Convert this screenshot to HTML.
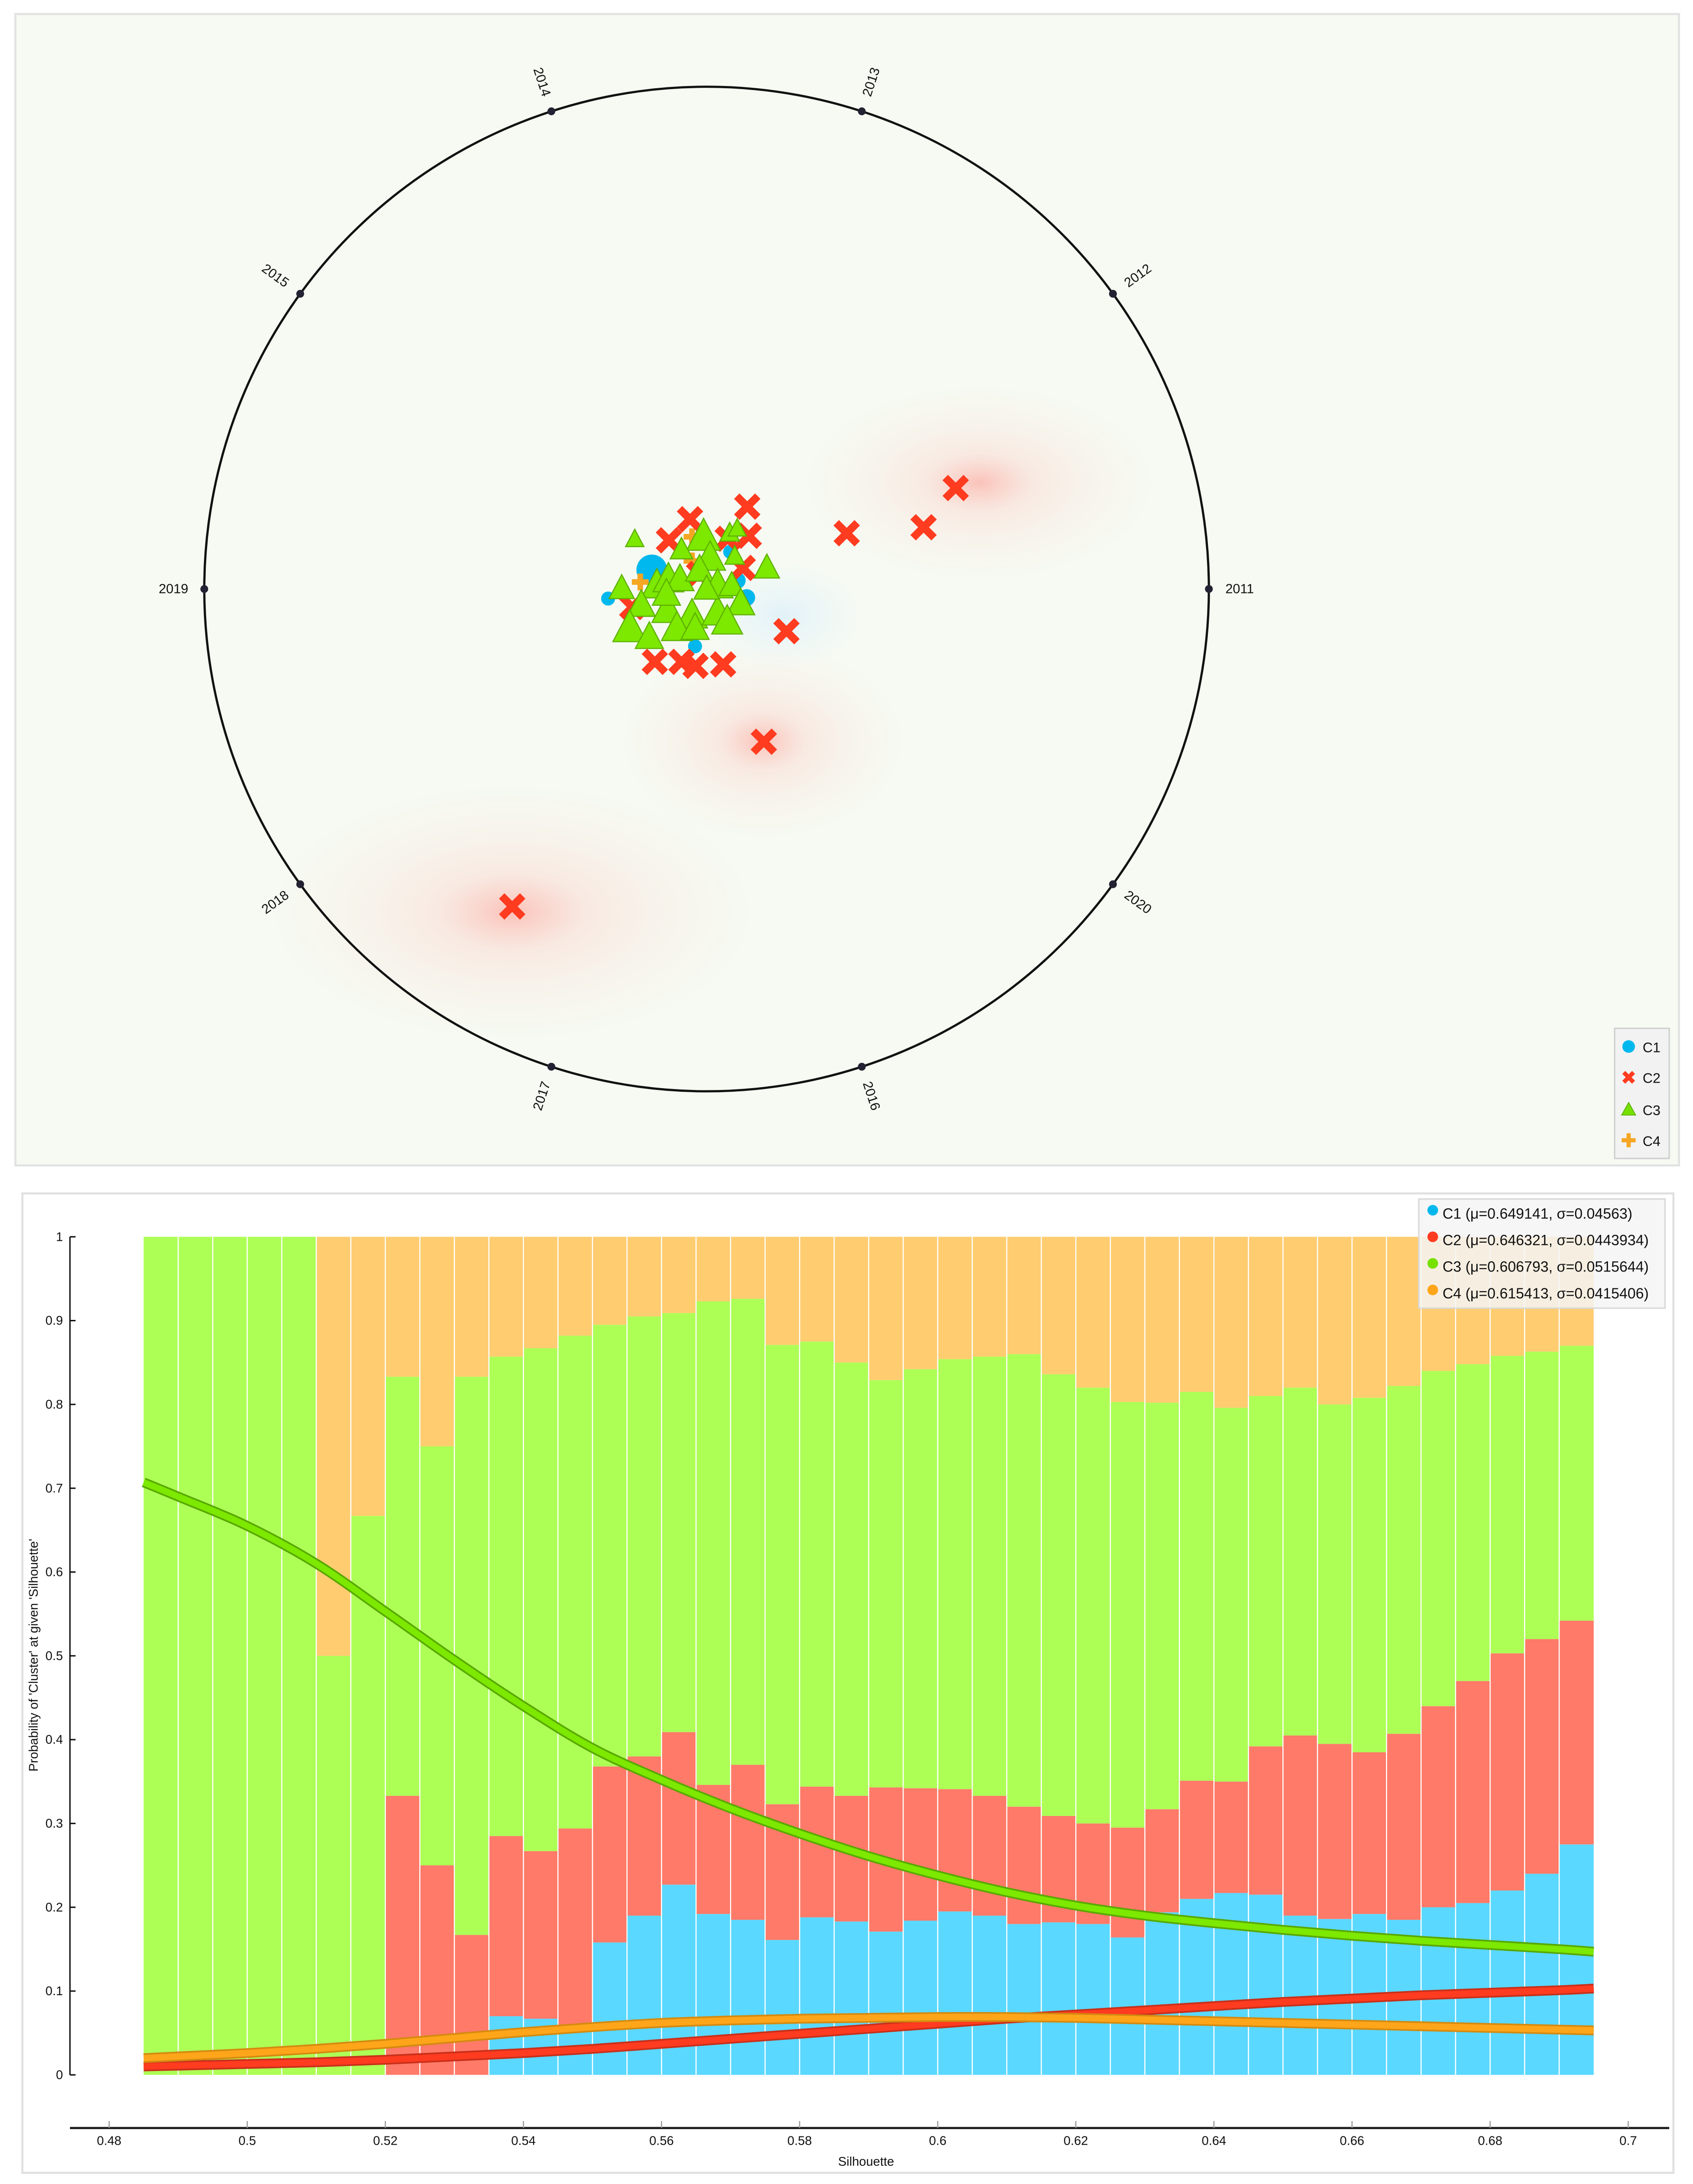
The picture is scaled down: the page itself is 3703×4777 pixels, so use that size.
<!DOCTYPE html>
<html><head><meta charset="utf-8">
<style>
html,body{margin:0;padding:0;background:#fff;}
svg{display:block;font-family:"Liberation Sans",sans-serif;}
</style></head>
<body>
<svg id="root" width="3703" height="4777" viewBox="0 0 1210 1561" preserveAspectRatio="none" xmlns="http://www.w3.org/2000/svg">
<defs>
<radialGradient id="pink" cx="50%" cy="50%" r="50%">
<stop offset="0" stop-color="#ff8a80" stop-opacity="0.5"/>
<stop offset="0.3" stop-color="#ffb0a8" stop-opacity="0.22"/>
<stop offset="0.7" stop-color="#ffd4cf" stop-opacity="0.12"/>
<stop offset="1" stop-color="#ffe4e0" stop-opacity="0"/>
</radialGradient>
<radialGradient id="blueglow" cx="50%" cy="50%" r="50%">
<stop offset="0" stop-color="#d8eefc" stop-opacity="0.7"/>
<stop offset="1" stop-color="#e8f4fc" stop-opacity="0"/>
</radialGradient>
</defs>
<g>
<rect x="11" y="10" width="1189" height="823" fill="#f6faf2" stroke="#e2e2e2" stroke-width="1.5"/>
<g id="glows">
<ellipse cx="700" cy="345" rx="130" ry="72" fill="url(#pink)"/>
<ellipse cx="366" cy="652" rx="180" ry="95" fill="url(#pink)"/>
<ellipse cx="545" cy="530" rx="105" ry="72" fill="url(#pink)"/>
<ellipse cx="560" cy="440" rx="60" ry="40" fill="url(#blueglow)"/>
</g>
<circle cx="505" cy="421" r="359" fill="none" stroke="#111" stroke-width="1.6"/>
<g id="anchors"></g>
<g id="points"></g>
<g>
<rect x="1154" y="735" width="39" height="93" fill="#f2f2f2" stroke="#cfcfcf"/>
<circle cx="1164" cy="748" r="4.5" fill="#00b8ee"/>
<text x="1174" y="752" font-size="10" fill="#111">C1</text>
<path d="M1160.5 766.5 l7 7 M1167.5 766.5 l-7 7" stroke="#ff3b20" stroke-width="3"/>
<text x="1174" y="774" font-size="10" fill="#111">C2</text>
<path d="M1164 788 l5 9 h-10 z" fill="#76e000" stroke="#5db000" stroke-width="0.6"/>
<text x="1174" y="797" font-size="10" fill="#111">C3</text>
<path d="M1164 810 v10 M1159 815 h10" stroke="#f5a623" stroke-width="3"/>
<text x="1174" y="819" font-size="10" fill="#111">C4</text>
</g>
</g>
<g>
<rect x="16" y="853" width="1180" height="700" fill="#fff" stroke="#e0e0e0" stroke-width="1.5"/>
<g id="bars"></g>
<g id="curves"></g>
<g id="axes"></g>
<text x="619" y="1548" font-size="9" text-anchor="middle" fill="#111">Silhouette</text>
<text transform="translate(27,1183) rotate(-90)" font-size="9" text-anchor="middle" fill="#111">Probability of 'Cluster' at given 'Silhouette'</text>
<g>
<rect x="1014" y="857" width="176" height="78" fill="#f4f4f4" fill-opacity="0.85" stroke="#d8d8d8"/>
<circle cx="1024" cy="865" r="3.8" fill="#00b8ee"/>
<text x="1031" y="871" font-size="10.5" fill="#111">C1 (μ=0.649141, σ=0.04563)</text>
<circle cx="1024" cy="884" r="3.8" fill="#ff3b20"/>
<text x="1031" y="890" font-size="10.5" fill="#111">C2 (μ=0.646321, σ=0.0443934)</text>
<circle cx="1024" cy="903" r="3.8" fill="#76e000"/>
<text x="1031" y="909" font-size="10.5" fill="#111">C3 (μ=0.606793, σ=0.0515644)</text>
<circle cx="1024" cy="922" r="3.8" fill="#ffa51a"/>
<text x="1031" y="928" font-size="10.5" fill="#111">C4 (μ=0.615413, σ=0.0415406)</text>
</g>
</g>
</svg>
<script>
const anchorLabels = ["2011","2012","2013","2014","2015","2019","2018","2017","2016","2020"];
const anchorAngles = [0,36,72,108,144,180,216,252,288,324];
const c2x = [0.496,0.432,0.279,0.159,0.114,-0.387,0.081,-0.033,-0.075,0.084,0.042,0.072,0.033,-0.022,-0.050,-0.103,-0.148,-0.015];
const c2y = [0.201,0.123,0.111,-0.084,-0.304,-0.632,0.164,0.139,0.097,0.106,0.100,0.042,-0.150,-0.153,-0.145,-0.145,-0.036,0.030];
const c1x = [-0.109,-0.196,0.061,0.080,0.047,-0.023];
const c1y = [0.038,-0.019,0.017,-0.017,0.074,-0.114];
const c1r = [11,5,6,6,5,5];
const c4x = [-0.029,-0.132,-0.029];
const c4y = [0.104,0.014,0.056];
const c3x = [-0.143,-0.006,0.046,0.061,-0.050,0.007,0.056,0.120,-0.169,-0.099,-0.076,-0.053,-0.014,0.022,0.050,0.068,-0.130,-0.078,-0.029,0.022,-0.153,-0.114,-0.059,0.041,-0.023,-0.080,0.000];
const c3y = [0.099,0.104,0.111,0.120,0.078,0.062,0.065,0.042,0.001,0.007,0.019,0.019,0.038,0.007,0.007,-0.029,-0.032,-0.042,-0.053,-0.047,-0.078,-0.096,-0.078,-0.065,-0.078,-0.010,0.000];
const c3s = [13,24,14,13,16,22,14,18,18,22,22,20,20,22,18,20,20,22,22,22,24,20,22,22,20,20,18];

const binStart = [0.485,0.49,0.495,0.5,0.505,0.51,0.515,0.52,0.525,0.53,0.535,0.54,0.545,0.55,0.555,0.56,0.565,0.57,0.575,0.58,0.585,0.59,0.595,0.6,0.605,0.61,0.615,0.62,0.625,0.63,0.635,0.64,0.645,0.65,0.655,0.66,0.665,0.67,0.675,0.68,0.685,0.69];
const c1Prob = [0,0,0,0,0,0,0,0,0,0,0.07,0.067,0.059,0.158,0.19,0.227,0.192,0.185,0.161,0.188,0.183,0.171,0.184,0.195,0.19,0.18,0.182,0.18,0.164,0.194,0.21,0.217,0.215,0.19,0.186,0.192,0.185,0.2,0.205,0.22,0.24,0.275];
const c2Prob = [0,0,0,0,0,0,0,0.333,0.25,0.167,0.215,0.2,0.235,0.21,0.19,0.182,0.154,0.185,0.162,0.156,0.15,0.172,0.158,0.146,0.143,0.14,0.127,0.12,0.131,0.123,0.141,0.133,0.177,0.215,0.209,0.193,0.222,0.24,0.265,0.283,0.28,0.267];
const c3Prob = [1,1,1,1,1,0.5,0.667,0.5,0.5,0.666,0.572,0.6,0.588,0.527,0.525,0.5,0.577,0.556,0.548,0.531,0.517,0.486,0.5,0.513,0.524,0.54,0.527,0.52,0.508,0.485,0.464,0.446,0.418,0.415,0.405,0.423,0.415,0.4,0.378,0.355,0.343,0.328];
const c4Prob = [0,0,0,0,0,0.5,0.333,0.167,0.25,0.167,0.143,0.133,0.118,0.105,0.095,0.091,0.077,0.074,0.129,0.125,0.15,0.171,0.158,0.146,0.143,0.14,0.164,0.18,0.197,0.198,0.185,0.204,0.19,0.18,0.2,0.192,0.178,0.16,0.152,0.142,0.137,0.13];
const curveX = [0.485,0.49,0.5,0.51,0.52,0.53,0.54,0.55,0.56,0.57,0.58,0.59,0.6,0.61,0.62,0.63,0.64,0.65,0.66,0.67,0.68,0.69,0.695];
const c3Curve = [0.707,0.69,0.655,0.61,0.553,0.495,0.44,0.39,0.352,0.318,0.288,0.261,0.238,0.218,0.202,0.19,0.181,0.173,0.166,0.16,0.155,0.15,0.147];
const c2Curve = [0.010,0.011,0.013,0.015,0.018,0.022,0.026,0.031,0.037,0.043,0.049,0.055,0.061,0.067,0.072,0.077,0.082,0.087,0.091,0.095,0.098,0.101,0.103];
const c4Curve = [0.020,0.022,0.026,0.031,0.037,0.044,0.051,0.057,0.062,0.065,0.067,0.068,0.069,0.069,0.068,0.066,0.064,0.062,0.060,0.058,0.056,0.054,0.053];
const yTicks = [0,0.1,0.2,0.3,0.4,0.5,0.6,0.7,0.8,0.9,1];
const yTickLabels = ["0","0.1","0.2","0.3","0.4","0.5","0.6","0.7","0.8","0.9","1"];
const xTicks = [0.48,0.5,0.52,0.54,0.56,0.58,0.6,0.62,0.64,0.66,0.68,0.7];
const xTickLabels = ["0.48","0.5","0.52","0.54","0.56","0.58","0.6","0.62","0.64","0.66","0.68","0.7"];
const binWidth = 0.005;

const NS = "http://www.w3.org/2000/svg";
function mk(tag, attrs, parent){const e=document.createElementNS(NS,tag);for(const k in attrs)e.setAttribute(k,attrs[k]);parent.appendChild(e);return e;}

const CX=505, CY=421, R=359;
const px = v => CX + v*R, py = v => CY - v*R;
const ag = document.getElementById('anchors');
anchorLabels.forEach((lab,i)=>{
  const a = anchorAngles[i]*Math.PI/180;
  const d = mk('circle',{cx:CX+R*Math.cos(a),cy:CY-R*Math.sin(a),r:2.8,fill:'#223'},ag);
  
  
  let rot = -anchorAngles[i]; while(rot<=-90)rot+=180; while(rot>90)rot-=180;
  const lx = CX+(R+22)*Math.cos(a), ly = CY-(R+22)*Math.sin(a);
  const t = mk('text',{x:lx,y:ly+3,'font-size':9.5,'text-anchor':'middle',fill:'#111',transform:`rotate(${rot} ${lx} ${ly})`},ag);
  t.textContent = lab;
  
  
});
const pg = document.getElementById('points');
c1x.forEach((v,i)=>{
  const c = mk('circle',{cx:px(v),cy:py(c1y[i]),r:c1r[i],fill:'#00b8ee'},pg);
  
  
});
c4x.forEach((v,i)=>{
  const x=px(v), y=py(c4y[i]);
  const p = mk('path',{d:`M${x} ${y-6} v12 M${x-6} ${y} h12`,stroke:'#f5a623','stroke-width':4},pg);
  
  
});
c2x.forEach((v,i)=>{
  const x=px(v), y=py(c2y[i]), s=7.5;
  const p = mk('path',{d:`M${x-s} ${y-s} L${x+s} ${y+s} M${x+s} ${y-s} L${x-s} ${y+s}`,stroke:'#ff3b20','stroke-width':5.5},pg);
  
  
});
c3x.forEach((v,i)=>{
  const x=px(v), y=py(c3y[i]), s=c3s[i];
  const p = mk('path',{d:`M${x} ${y-s*0.55} L${x+s/2} ${y+s*0.4} L${x-s/2} ${y+s*0.4} Z`,fill:'#7de800',stroke:'#5db000','stroke-width':0.8},pg);
  
  
});

const X = v => 78 + (v-0.48)*4935;
const Y = v => 1483 - 599*v;
const bg = document.getElementById('bars');
const stackSeries = [[c1Prob,'#5ad8ff','c1'],[c2Prob,'#ff7a68','c2'],[c3Prob,'#adff56','c3'],[c4Prob,'#ffcc70','c4']];
binStart.forEach((b,i)=>{
  let base = 0;
  const x0 = X(b), x1 = X(b+binWidth);
  stackSeries.forEach(([arr,col,nm])=>{
    const v = arr[i];
    if(v>0){
      const r = mk('rect',{x:x0,y:Y(base+v),width:x1-x0,height:Y(base)-Y(base+v),fill:col},bg);
      
      
    }
    base += v;
  });
  if(i>0){
    const l = mk('line',{x1:x0,x2:x0,y1:Y(1),y2:Y(0),stroke:'#fff','stroke-width':0.8},bg);
    
    
  }
});
const cg = document.getElementById('curves');
function smoothPath(vals){
  const P = curveX.map((v,i)=>[X(v),Y(vals[i])]);
  let d = `M${P[0][0].toFixed(2)} ${P[0][1].toFixed(2)}`;
  for(let i=0;i<P.length-1;i++){
    const p0=P[Math.max(0,i-1)], p1=P[i], p2=P[i+1], p3=P[Math.min(P.length-1,i+2)];
    const c1=[p1[0]+(p2[0]-p0[0])/6, p1[1]+(p2[1]-p0[1])/6];
    const c2=[p2[0]-(p3[0]-p1[0])/6, p2[1]-(p3[1]-p1[1])/6];
    d += ` C${c1[0].toFixed(2)} ${c1[1].toFixed(2)} ${c2[0].toFixed(2)} ${c2[1].toFixed(2)} ${p2[0].toFixed(2)} ${p2[1].toFixed(2)}`;
  }
  return d;
}
function drawCurve(vals,col,edge,nm){
  const d = smoothPath(vals);
  const o = mk('path',{d,fill:'none',stroke:edge,'stroke-width':7,'stroke-linejoin':'round'},cg);
  
  
  const p = mk('path',{d,fill:'none',stroke:col,'stroke-width':4.6,'stroke-linejoin':'round'},cg);
  
  
}
drawCurve(c2Curve,'#ff3b20','#c8301a','c2');
drawCurve(c4Curve,'#ffa51a','#d48a10','c4');
drawCurve(c3Curve,'#7de800','#58a800','c3');

const axg = document.getElementById('axes');
const ya = mk('line',{x1:50,x2:50,y1:Y(1),y2:Y(0),stroke:'#111','stroke-width':1},axg);


yTicks.forEach((v,i)=>{
  const t = mk('line',{x1:50,x2:54,y1:Y(v),y2:Y(v),stroke:'#111','stroke-width':1},axg);
  
  
  const l = mk('text',{x:45,y:Y(v)+3,'font-size':9,'text-anchor':'end',fill:'#111'},axg);
  l.textContent = yTickLabels[i];
  
  
});
const xa = mk('line',{x1:50,x2:1193,y1:1521,y2:1521,stroke:'#222','stroke-width':1.6},axg);


xTicks.forEach((v,i)=>{
  const t = mk('line',{x1:X(v),x2:X(v),y1:1516,y2:1521,stroke:'#999','stroke-width':0.8},axg);
  
  
  const l = mk('text',{x:X(v),y:1533,'font-size':9,'text-anchor':'middle',fill:'#111'},axg);
  l.textContent = xTickLabels[i];
  
  
});
</script>
</body></html>
